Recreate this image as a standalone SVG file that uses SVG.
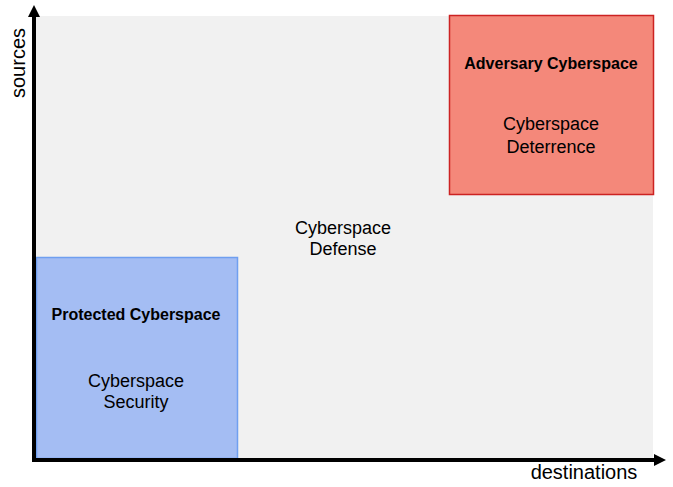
<svg xmlns="http://www.w3.org/2000/svg" width="673" height="487" viewBox="0 0 673 487">
<style>
text{font-family:"Liberation Sans",Arial,sans-serif;fill:#000;text-anchor:middle}
.t{font-size:18px}
.b{font-size:16px;font-weight:bold}
.ax{font-size:20px}
</style>
<defs>
<marker id="ah" viewBox="0 0 12 12" refX="1" refY="6" markerWidth="12" markerHeight="12" markerUnits="userSpaceOnUse" orient="auto-start-reverse">
<path d="M0,0 L12,6 L0,12 Z" fill="#000"/>
</marker>
</defs>
<rect x="0" y="0" width="673" height="487" fill="#fff"/>
<rect id="bg" x="36" y="16" width="617" height="444" fill="#f1f1f1"/>
<g id="adversary">
<rect x="449.5" y="15.5" width="204" height="179" fill="#f4887a" stroke="#cc2222" stroke-width="1.5"/>
<text class="b" x="551" y="69">Adversary Cyberspace</text>
<text class="t" x="551" y="130">Cyberspace</text>
<text class="t" x="551" y="153">Deterrence</text>
</g>
<g id="protected">
<rect x="36.5" y="257.5" width="201" height="201" fill="#a4bdf3" stroke="#6f9ff0" stroke-width="1.5"/>
<text class="b" x="136" y="320">Protected Cyberspace</text>
<text class="t" x="136" y="387">Cyberspace</text>
<text class="t" x="136" y="408">Security</text>
</g>
<g id="defense">
<text class="t" x="343" y="234">Cyberspace</text>
<text class="t" x="343" y="255">Defense</text>
</g>
<g id="connectors">
<path d="M34,16 L34,460 L655,460" fill="none" stroke="#000" stroke-width="4" stroke-linejoin="miter" stroke-linecap="butt" marker-start="url(#ah)" marker-end="url(#ah)"/>
</g>
<text class="ax" x="584" y="479">destinations</text>
<text class="ax" transform="translate(25,63) rotate(-90)" x="0" y="0">sources</text>
</svg>
